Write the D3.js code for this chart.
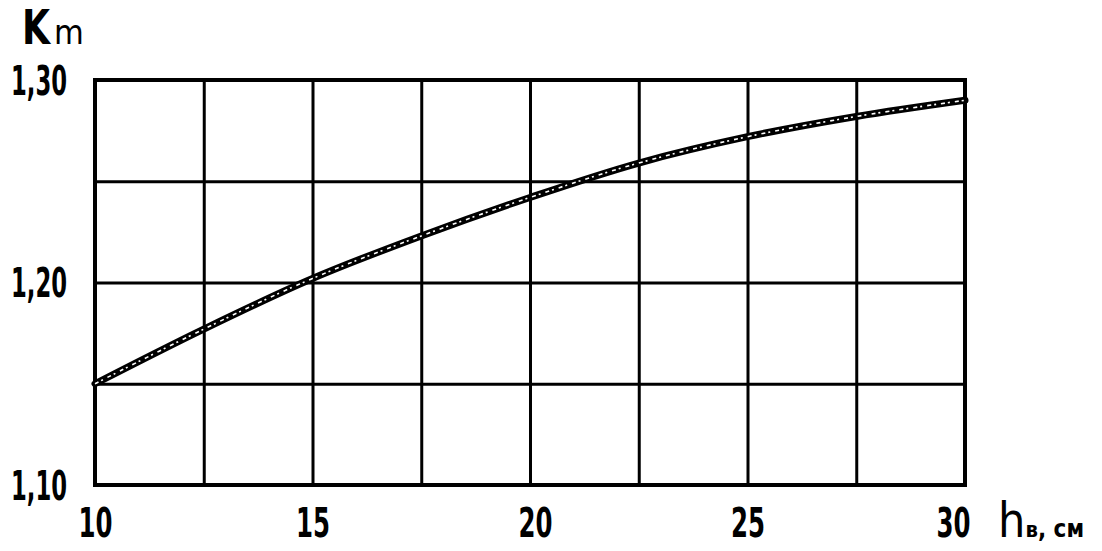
<!DOCTYPE html>
<html><head><meta charset="utf-8">
<script src="https://cdn.jsdelivr.net/npm/d3@7"></script>
<style>
body{margin:0;background:#fff;}
svg text{font-family:"DejaVu Sans Condensed","Liberation Sans Narrow",sans-serif;font-weight:bold;fill:#000;}
</style></head>
<body><svg id="c" width="1102" height="551"></svg>
<script>
const hValues = [10, 12.5, 15, 17.5, 20, 22.5, 25, 27.5, 30];
const kmValues = [1.150, 1.177, 1.202, 1.223, 1.242, 1.259, 1.272, 1.282, 1.290];
const xGridTicks = [10, 12.5, 15, 17.5, 20, 22.5, 25, 27.5, 30];
const yGridTicks = [1.10, 1.15, 1.20, 1.25, 1.30];
const xTickLabels = [10, 15, 20, 25, 30];
const yTickLabels = [1.10, 1.20, 1.30];

const svg = d3.select("#c");
const L = 95, R = 965, T = 80, B = 485;
const x = d3.scaleLinear().domain([10, 30]).range([L, R]);
const y = d3.scaleLinear().domain([1.10, 1.30]).range([B, T]);

// grid
const gx = svg.append("g").attr("transform", `translate(0,${B})`)
  .call(d3.axisBottom(x).tickValues(xGridTicks).tickSize(-(B - T)).tickFormat(""));
const gy = svg.append("g").attr("transform", `translate(${L},0)`)
  .call(d3.axisLeft(y).tickValues(yGridTicks).tickSize(-(R - L)).tickFormat(""));
[gx, gy].forEach(g => {
  g.select(".domain").remove();
  g.selectAll(".tick line").attr("stroke", "#000").attr("stroke-width", 3);
});

// frame
svg.append("rect").attr("x", L).attr("y", T).attr("width", R - L).attr("height", B - T)
  .attr("fill", "none").attr("stroke", "#000").attr("stroke-width", 4);

// curve
const line = d3.line().x(d => x(d[0])).y(d => y(d[1])).curve(d3.curveCatmullRom.alpha(0.5));
const pts = hValues.map((h, i) => [h, kmValues[i]]);
svg.append("path").datum(pts).attr("d", line).attr("fill", "none")
  .attr("stroke", "#000").attr("stroke-width", 7).attr("stroke-linecap", "round");
svg.append("path").datum(pts).attr("d", line).attr("fill", "none")
  .attr("stroke", "#fff").attr("stroke-width", 1.6).attr("stroke-dasharray", "4 3 2 5");

// x tick labels
const xa = svg.append("g").attr("transform", `translate(0,${B})`)
  .call(d3.axisBottom(x).tickValues(xTickLabels).tickSize(0).tickPadding(0).tickFormat(d3.format("d")));
xa.select(".domain").remove();
xa.selectAll("text").attr("y", 52).attr("dy", null).attr("font-size", 40)
  .attr("textLength", 34).attr("lengthAdjust", "spacingAndGlyphs")
  .attr("dx", d => d === 30 ? -12 : (d === 20 ? 5 : 0));

// y tick labels
const fmt = d => d3.format(".2f")(d).replace(".", ",");
const ya = svg.append("g").attr("transform", `translate(${L},0)`)
  .call(d3.axisLeft(y).tickValues(yTickLabels).tickSize(0).tickPadding(0).tickFormat(fmt));
ya.select(".domain").remove();
ya.selectAll("text").attr("x", -28).attr("dy", "0.36em").attr("font-size", 40)
  .attr("text-anchor", "end").attr("transform", null)
  .attr("textLength", 56).attr("lengthAdjust", "spacingAndGlyphs")
  .attr("dx", 0);

// axis titles
svg.append("text").attr("x", 22).attr("y", 44).attr("font-size", 48)
  .attr("textLength", 28).attr("lengthAdjust", "spacingAndGlyphs").text("K");
svg.append("text").attr("x", 54).attr("y", 44).attr("font-size", 34)
  .style("font-weight", "normal").text("m");

const hx = svg.append("text").attr("x", 998).attr("y", 537).attr("font-size", 48);
hx.append("tspan").text("h").style("font-weight", "normal");
hx.append("tspan").text("в").attr("font-size", 22);
hx.append("tspan").text(", см").attr("font-size", 24);
</script></body></html>
